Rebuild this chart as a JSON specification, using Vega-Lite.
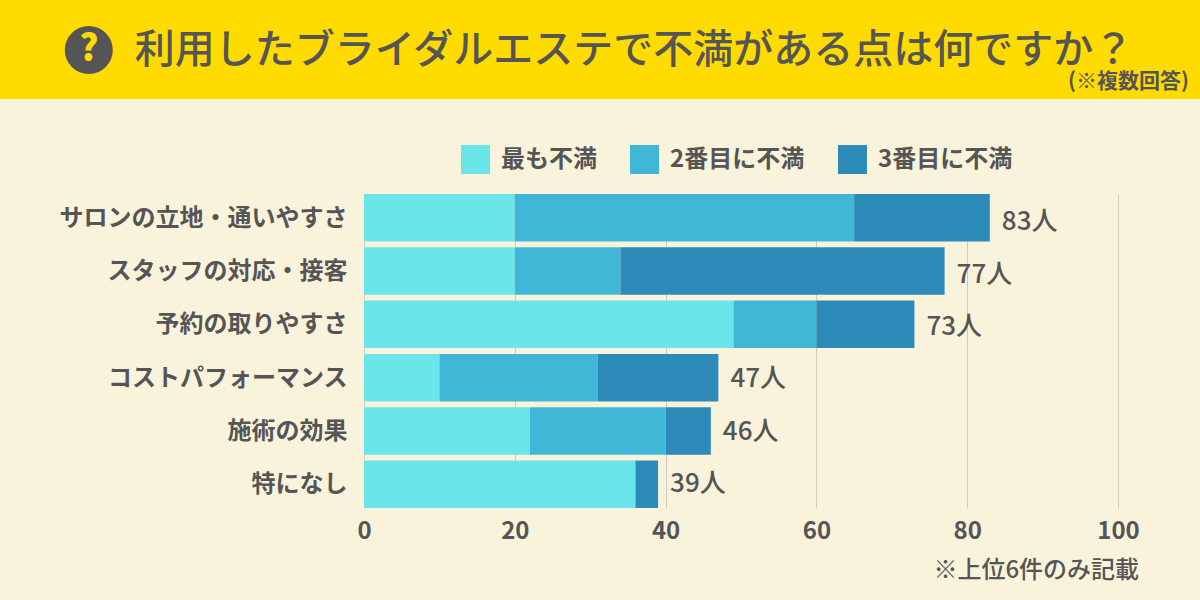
{
"$schema":"https://vega.github.io/schema/vega-lite/v6.json",
"width":754,"height":314,
"autosize":{"type":"none"},
"padding":{"left":364,"top":194,"right":82,"bottom":92},
"background":"#FAF3DB",
"config":{"view":{"stroke":null},"font":"Noto Sans CJK JP",
 "axisX":{"title":null,"tickCount":5,"grid":true,"gridColor":"#CFCBBE","gridWidth":1,"domain":false,"ticks":false,"labelFontSize":24,"labelFontWeight":700,"labelColor":"#555555","labelPadding":11,"labelFont":"Noto Sans CJK JP","labelFlush":false}},
"resolve":{"scale":{"y":"independent","x":"shared"},"axis":{"y":"independent"}},
"layer":[
{"data":{"values":[{"x0":-48.3,"x1":110.9,"y0":0,"y1":99}]},
 "mark":{"type":"rect","fill":"#FFDB00","clip":false},
 "encoding":{"x":{"field":"x0","type":"quantitative","scale":{"domain":[0,100],"nice":false},"title":null},"x2":{"field":"x1"},
 "y":{"field":"y0","type":"quantitative","scale":{"domain":[194,508],"reverse":true,"nice":false,"zero":false},"axis":null},"y2":{"field":"y1"}}},
{"data":{"values":[{"x":-36.5,"y":50,"s":"?"}]},
 "layer":[
 {"mark":{"type":"point","filled":true,"fill":"#555555","opacity":1,"size":2304,"clip":false},
  "encoding":{"x":{"field":"x","type":"quantitative","title":null},"y":{"field":"y","type":"quantitative","scale":{"domain":[194,508],"reverse":true,"nice":false,"zero":false},"axis":null}}},
 {"mark":{"type":"text","fill":"#FFDB00","fontSize":36,"fontWeight":900,"align":"center","baseline":"middle","clip":false},
  "encoding":{"text":{"field":"s"},"x":{"field":"x","type":"quantitative","title":null},"y":{"field":"y","type":"quantitative","scale":{"domain":[194,508],"reverse":true,"nice":false,"zero":false},"axis":null}}}
 ]},
{"data":{"values":[
 {"x":-30.4,"y":51,"t":"利用したブライダルエステで不満がある点は何ですか？"}]},
 "mark":{"type":"text","fill":"#555555","fontSize":40,"fontWeight":500,"align":"left","baseline":"middle","clip":false},
 "encoding":{"text":{"field":"t"},"x":{"field":"x","type":"quantitative","title":null},"y":{"field":"y","type":"quantitative","scale":{"domain":[194,508],"reverse":true,"nice":false,"zero":false},"axis":null}}},
{"data":{"values":[{"x":109.4,"y":82,"t":"(※複数回答)"}]},
 "mark":{"type":"text","fill":"#555555","fontSize":21,"fontWeight":700,"align":"right","baseline":"middle","clip":false},
 "encoding":{"text":{"field":"t"},"x":{"field":"x","type":"quantitative","title":null},"y":{"field":"y","type":"quantitative","scale":{"domain":[194,508],"reverse":true,"nice":false,"zero":false},"axis":null}}},
{"data":{"values":[{"x":102.8,"y":571,"t":"※上位6件のみ記載"}]},
 "mark":{"type":"text","fill":"#555555","fontSize":24,"fontWeight":500,"align":"right","baseline":"middle","clip":false},
 "encoding":{"text":{"field":"t"},"x":{"field":"x","type":"quantitative","title":null},"y":{"field":"y","type":"quantitative","scale":{"domain":[194,508],"reverse":true,"nice":false,"zero":false},"axis":null}}},
{"data":{"values":[
 {"item":"サロンの立地・通いやすさ","kind":"最も不満","n":20,"o":1},{"item":"サロンの立地・通いやすさ","kind":"2番目に不満","n":45,"o":2},{"item":"サロンの立地・通いやすさ","kind":"3番目に不満","n":18,"o":3},
 {"item":"スタッフの対応・接客","kind":"最も不満","n":20,"o":1},{"item":"スタッフの対応・接客","kind":"2番目に不満","n":14,"o":2},{"item":"スタッフの対応・接客","kind":"3番目に不満","n":43,"o":3},
 {"item":"予約の取りやすさ","kind":"最も不満","n":49,"o":1},{"item":"予約の取りやすさ","kind":"2番目に不満","n":11,"o":2},{"item":"予約の取りやすさ","kind":"3番目に不満","n":13,"o":3},
 {"item":"コストパフォーマンス","kind":"最も不満","n":10,"o":1},{"item":"コストパフォーマンス","kind":"2番目に不満","n":21,"o":2},{"item":"コストパフォーマンス","kind":"3番目に不満","n":16,"o":3},
 {"item":"施術の効果","kind":"最も不満","n":22,"o":1},{"item":"施術の効果","kind":"2番目に不満","n":18,"o":2},{"item":"施術の効果","kind":"3番目に不満","n":6,"o":3},
 {"item":"特になし","kind":"最も不満","n":36,"o":1},{"item":"特になし","kind":"2番目に不満","n":0,"o":2},{"item":"特になし","kind":"3番目に不満","n":3,"o":3}
 ]},
 "mark":{"type":"bar","clip":false},
 "encoding":{
 "y":{"field":"item","type":"nominal","sort":null,"scale":{"paddingInner":0.11,"paddingOuter":0.0},
  "axis":{"title":null,"domain":false,"ticks":false,"grid":false,"labelFontSize":24,"labelFontWeight":700,"labelColor":"#555555","labelPadding":17,"labelOffset":1,"labelFont":"Noto Sans CJK JP","labelLimit":340}},
 "x":{"field":"n","type":"quantitative","stack":"zero","title":null},
 "color":{"field":"kind","type":"nominal","scale":{"domain":["最も不満","2番目に不満","3番目に不満"],"range":["#6AE6EA","#40B7D6","#2D8BBA"]},
  "legend":{"title":null,"orient":"none","legendX":97,"legendY":-49,"direction":"horizontal","columns":3,"symbolType":"square","symbolSize":841,"symbolStrokeWidth":0,"symbolOpacity":1,"labelFontSize":24,"labelFontWeight":700,"labelColor":"#555555","labelOffset":11,"columnPadding":33,"labelLimit":200}},
 "order":{"field":"o","type":"quantitative"}}},
{"data":{"values":[
 {"item":"サロンの立地・通いやすさ","total":83,"label":"83人"},{"item":"スタッフの対応・接客","total":77,"label":"77人"},{"item":"予約の取りやすさ","total":73,"label":"73人"},{"item":"コストパフォーマンス","total":47,"label":"47人"},{"item":"施術の効果","total":46,"label":"46人"},{"item":"特になし","total":39,"label":"39人"}]},
 "mark":{"type":"text","align":"left","baseline":"middle","dx":12,"dy":2,"fontSize":26,"fontWeight":500,"fill":"#555555","clip":false},
 "encoding":{"text":{"field":"label"},
 "x":{"field":"total","type":"quantitative","title":null},
 "y":{"field":"item","type":"nominal","sort":null,"axis":null,"scale":{"paddingInner":0.11,"paddingOuter":0.0}}}}
]}
